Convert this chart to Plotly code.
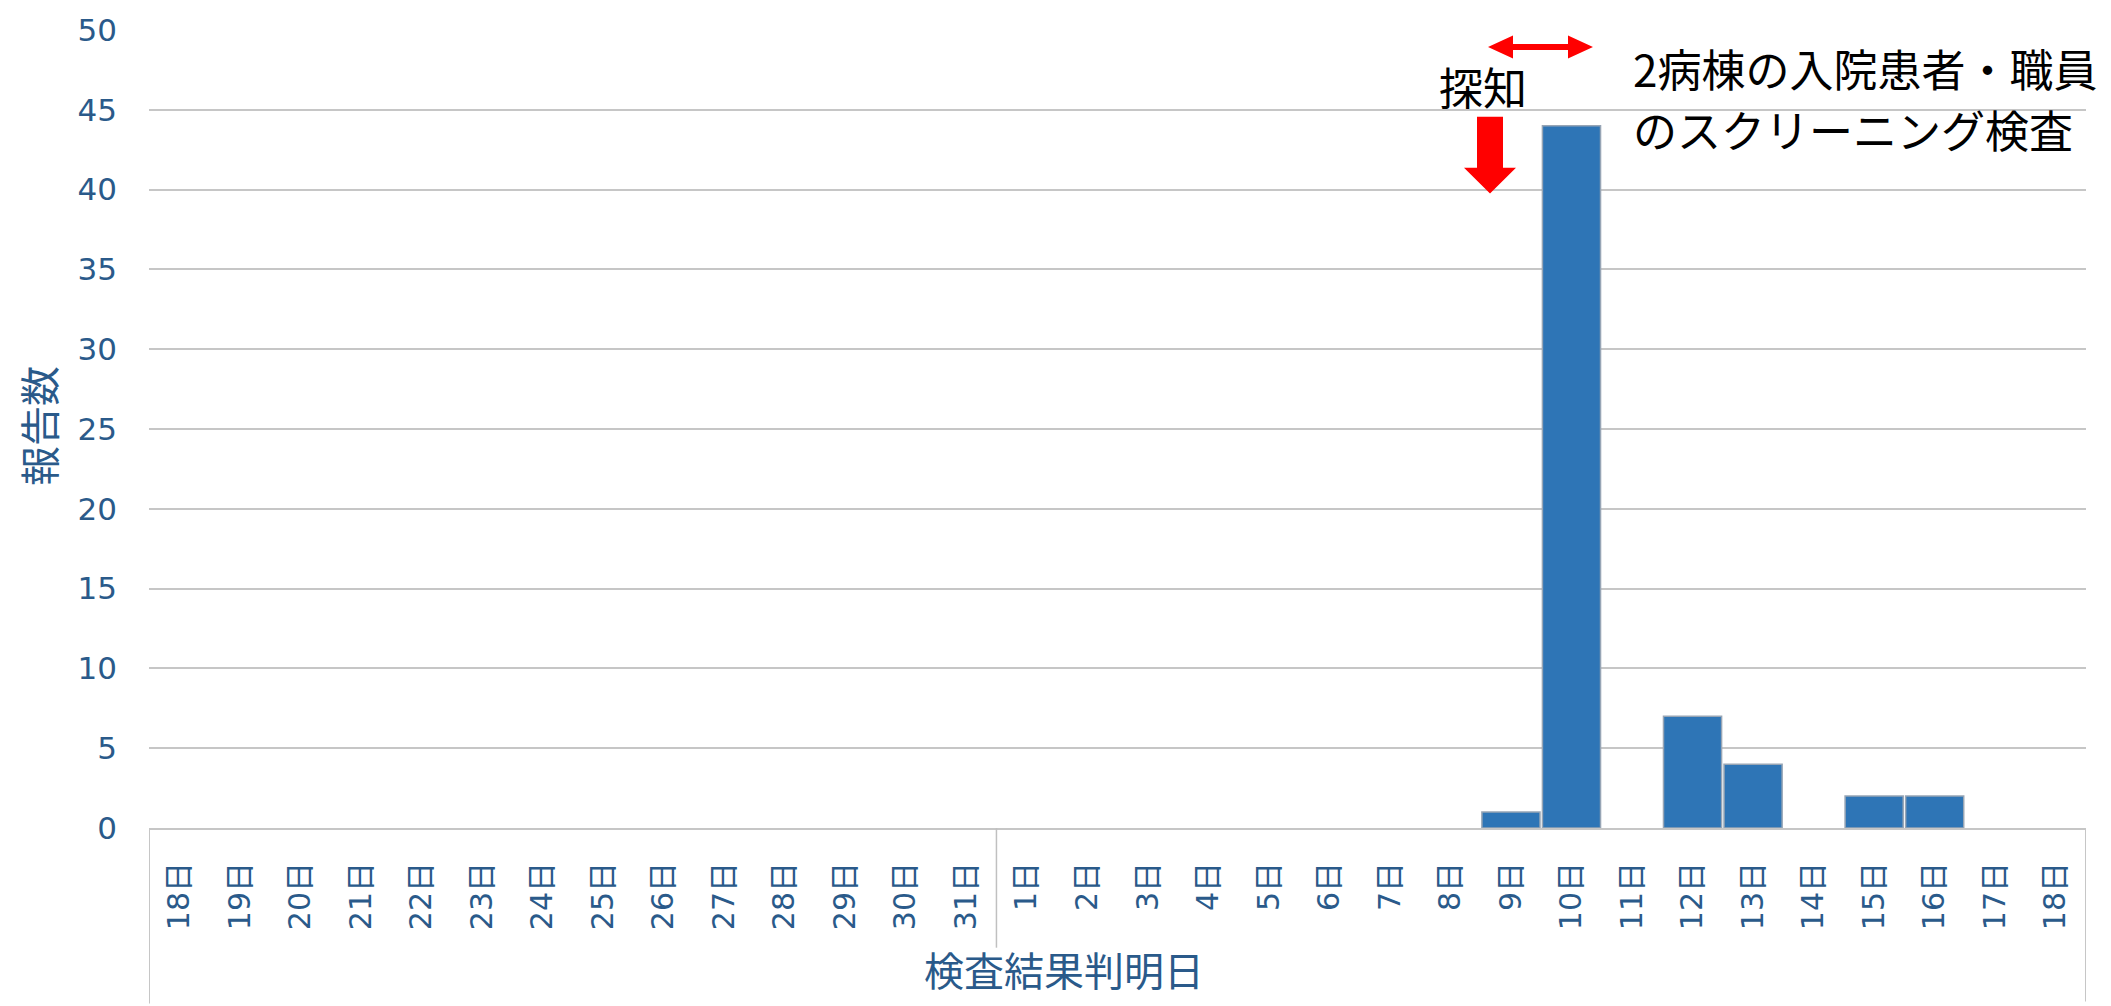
import plotly.graph_objects as go

# Reporting days (late month -> following month) and daily case counts
day_labels = ["18日", "19日", "20日", "21日", "22日", "23日", "24日", "25日", "26日",
              "27日", "28日", "29日", "30日", "31日",
              "1日", "2日", "3日", "4日", "5日", "6日", "7日", "8日", "9日", "10日",
              "11日", "12日", "13日", "14日", "15日", "16日", "17日", "18日"]
report_counts = [0, 0, 0, 0, 0, 0, 0, 0, 0, 0, 0, 0, 0, 0,
                 0, 0, 0, 0, 0, 0, 0, 0, 1, 44, 0, 7, 4, 0, 2, 2, 0, 0]
month_break_after = "31日"  # divider between the two months
y_ticks = [0, 5, 10, 15, 20, 25, 30, 35, 40, 45, 50]

positions = list(range(len(day_labels)))

W, H = 2111, 1006
L, R, T, B = 149, 25, 28, 178
PW, PH = W - L - R, H - T - B

TEXT_BLUE = "#2a5a8a"
GRID = "#c6c6c6"
BAR = "#2e75b6"
RED = "#ff0000"
FONT_NUM = "DejaVu Sans, Noto Sans CJK JP, sans-serif"
FONT_JP = "Noto Sans CJK JP, sans-serif"


def px(x):
    """pixel x -> paper x"""
    return (x - L) / PW


def py(y):
    """pixel y -> paper y"""
    return (T + PH - y) / PH


def poly(points):
    return "M " + " L ".join(f"{px(a):.5f},{py(b):.5f}" for a, b in points) + " Z"


# empty days get no outline so nothing shows on the axis
outline_widths = [1.5 if v > 0 else 0 for v in report_counts]

fig = go.Figure(
    go.Bar(
        x=positions,
        y=report_counts,
        marker=dict(color=BAR, line=dict(color="#97a5b5", width=outline_widths)),
        width=0.96,
    )
)

fig.update_layout(
    width=W, height=H,
    margin=dict(l=L, r=R, t=T, b=B, pad=0),
    paper_bgcolor="white", plot_bgcolor="white",
    showlegend=False,
    bargap=0.04,
)

fig.update_xaxes(
    range=[-0.5, len(day_labels) - 0.5],
    tickmode="array", tickvals=positions, ticktext=day_labels,
    tickangle=-90,
    tickfont=dict(family=FONT_NUM, size=30, color=TEXT_BLUE),
    ticks="", ticklabelstandoff=20,
    showgrid=False, zeroline=False,
    showline=True, linecolor=GRID, linewidth=2,
)

fig.update_yaxes(
    range=[0, 50], tickmode="array", tickvals=y_ticks,
    tickfont=dict(family=FONT_NUM, size=31, color=TEXT_BLUE),
    ticks="", ticklabelstandoff=31,
    showgrid=True, gridcolor=GRID, gridwidth=2,
    zeroline=False, showline=False,
)

# Group brackets below the category axis (the month divider stops at the axis title)
break_idx = day_labels.index(month_break_after) + 0.5
bracket_x = [-0.5, break_idx, len(day_labels) - 0.5]
bracket_end = [1004, 948, 1002]
for i, bx in enumerate(bracket_x):
    fig.add_shape(
        type="line", xref="x", yref="paper",
        x0=bx, x1=bx, y0=0, y1=py(bracket_end[i]),
        line=dict(color=GRID if i != 1 else "#c0c0c0", width=2 if i != 1 else 1.5),
    )

# Red "detected" arrow pointing down
cx = 1490
fig.add_shape(
    type="path", xref="paper", yref="paper",
    path=poly([(cx - 13, 115), (cx + 13, 115), (cx + 13, 166), (cx + 26, 166),
               (cx, 192), (cx - 26, 166), (cx - 13, 166)]),
    fillcolor=RED, line=dict(width=0),
)

# Red double-headed arrow for the screening period
yc, x0, x1, hl, hh, st = 45, 1488, 1593, 25, 11.5, 3
fig.add_shape(
    type="path", xref="paper", yref="paper",
    path=poly([(x0, yc), (x0 + hl, yc - hh), (x0 + hl, yc - st), (x1 - hl, yc - st),
               (x1 - hl, yc - hh), (x1, yc), (x1 - hl, yc + hh), (x1 - hl, yc + st),
               (x0 + hl, yc + st), (x0 + hl, yc + hh)]),
    fillcolor=RED, line=dict(width=0),
)

annotations = [
    dict(text="探知", x=px(1483), y=py(84), xanchor="center", yanchor="middle",
         font=dict(family=FONT_JP, size=44, color="black")),
    dict(text="2病棟の入院患者・職員", x=px(1631), y=py(66), xanchor="left", yanchor="middle",
         font=dict(family=FONT_JP, size=44, color="black")),
    dict(text="のスクリーニング検査", x=px(1631), y=py(127), xanchor="left", yanchor="middle",
         font=dict(family=FONT_JP, size=44, color="black")),
    dict(text="検査結果判明日", x=px(1064), y=py(969), xanchor="center", yanchor="middle",
         borderpad=0, font=dict(family=FONT_JP, size=40, color=TEXT_BLUE)),
    dict(text="報告数", x=px(38), y=py(425), xanchor="center", yanchor="middle",
         textangle=-90, font=dict(family=FONT_JP, size=40, color=TEXT_BLUE)),
]
for a in annotations:
    fig.add_annotation(xref="paper", yref="paper", showarrow=False, **a)

fig.write_html("out.html")
